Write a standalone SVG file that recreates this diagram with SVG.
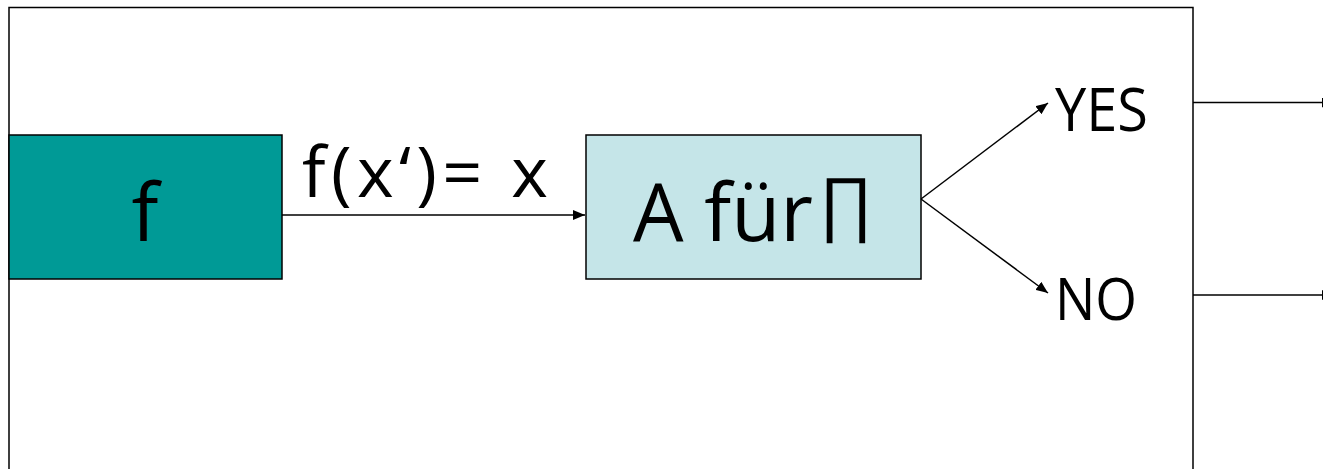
<svg xmlns="http://www.w3.org/2000/svg" width="1323" height="469" viewBox="0 0 1323 469">
<defs>
<marker id="ah" markerWidth="12" markerHeight="10" refX="12" refY="5" orient="auto" markerUnits="userSpaceOnUse"><path d="M0,0 L12,5 L0,10 Z" fill="#000"/></marker>
<style>
text{font-family:"Open Sans","Noto Sans","Liberation Sans",sans-serif;fill:#000}
.ln{stroke:#000;stroke-width:1.5;fill:none}
.bx{stroke:#000;stroke-width:1.5}
</style>
</defs>
<rect width="1323" height="469" fill="#fff"/>
<g id="frame"><path class="ln" d="M9,475 V7.5 H1193 V475"/></g>
<g id="node-f"><rect class="bx" x="9" y="135" width="273" height="144" fill="#009a96"/><text x="145" y="241" font-size="80" text-anchor="middle">f</text></g>
<g id="node-a"><rect class="bx" x="586" y="135" width="335" height="144" fill="#c5e5e8"/><text x="633" y="241" font-size="80">A für</text><text x="820" y="227" font-size="68" textLength="52" lengthAdjust="spacingAndGlyphs">∏</text></g>
<g id="label-fx"><text x="302" y="197" font-size="70" textLength="246">f(x‘)= x</text></g>
<g id="node-yes"><text x="1055" y="131" font-size="60" textLength="93" lengthAdjust="spacingAndGlyphs">YES</text></g>
<g id="node-no"><text x="1055" y="320" font-size="58" textLength="82" lengthAdjust="spacingAndGlyphs">NO</text></g>
<g id="connectors">
<line class="ln" x1="282" y1="215" x2="585" y2="215" marker-end="url(#ah)"/>
<line class="ln" x1="921" y1="199" x2="1048" y2="103" marker-end="url(#ah)"/>
<line class="ln" x1="921" y1="199" x2="1048" y2="293" marker-end="url(#ah)"/>
<line class="ln" x1="1193" y1="102.5" x2="1334" y2="102.5" marker-end="url(#ah)"/>
<line class="ln" x1="1193" y1="295" x2="1334" y2="295" marker-end="url(#ah)"/>
</g>
</svg>
